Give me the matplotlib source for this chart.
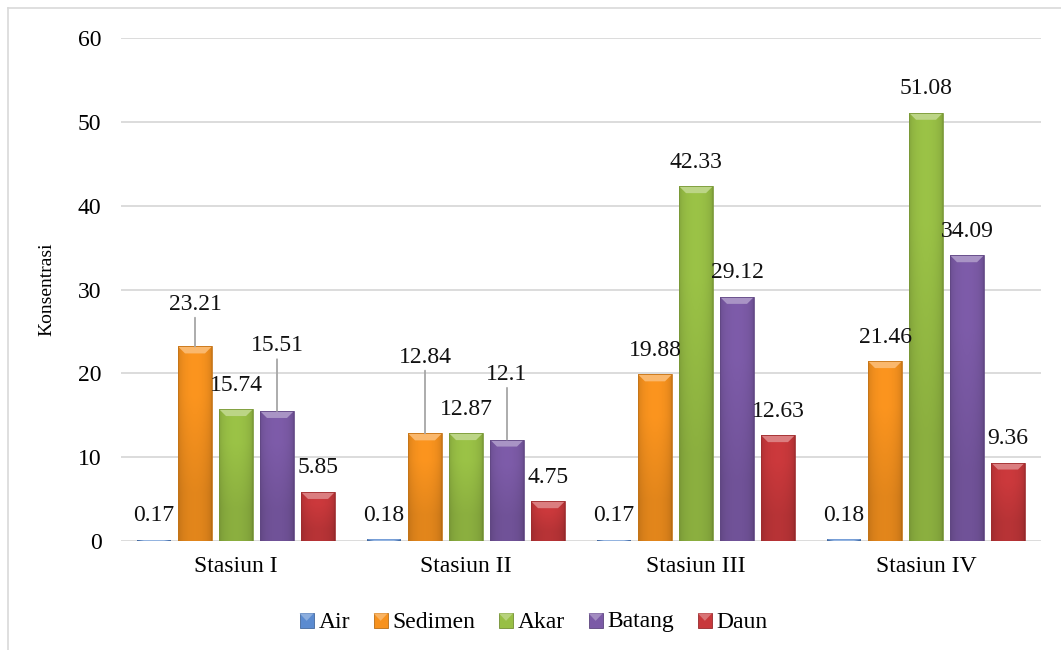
import numpy as np
import matplotlib.pyplot as plt
from matplotlib.patches import Rectangle, Polygon
from matplotlib.lines import Line2D
from matplotlib.colors import to_rgb
from matplotlib.legend_handler import HandlerBase

stations = ["Stasiun I", "Stasiun II", "Stasiun III", "Stasiun IV"]
parts = ["Air", "Sedimen", "Akar", "Batang", "Daun"]

air = [0.17, 0.18, 0.17, 0.18]
sedimen = [23.21, 12.84, 19.88, 21.46]
akar = [15.74, 12.87, 42.33, 51.08]
batang = [15.51, 12.1, 29.12, 34.09]
daun = [5.85, 4.75, 12.63, 9.36]

series = [air, sedimen, akar, batang, daun]
colors = ["#5B8BD0", "#F7921E", "#98BF45", "#7B5AA6", "#C8383B"]

# labels that sit higher with a leader line: (station, part) -> lift in px
lifted = {(0, 1): 42, (0, 3): 65, (1, 1): 76, (1, 3): 65}

plt.rcParams['font.family'] = ['Liberation Serif', 'DejaVu Serif']
FS = 17

W, H = 1061, 650
fig = plt.figure(figsize=(W / 100, H / 100), dpi=100)
ax = fig.add_axes([121 / W, 1 - 541 / H, (1041 - 121) / W, (541 - 38) / H])

ymax = 60
px_per_unit = (541 - 38) / ymax
px_per_cat = (1041 - 121) / 4

pitch = 41 / px_per_cat
width = 34 / px_per_cat
bevel_y = 7 / px_per_unit
bevel_x = 7 / px_per_cat


def mix(c, f):
    c = np.array(to_rgb(c))
    if f >= 1:
        return np.clip(c + (1 - c) * (f - 1), 0, 1)
    return c * f


def draw_bar(x0, h, color):
    # very short bars get no dark outline, only the light bevel
    edge = mix(color, 0.8) if h * px_per_unit > 4 else 'none'
    rect = Rectangle((x0, 0), width, h, facecolor='none',
                     edgecolor=edge, lw=0.6, zorder=3)
    ax.add_patch(rect)
    t = np.linspace(0, 1, 48)
    prof = 0.8 + 0.22 * np.sin(np.pi * t) ** 0.35
    base = np.array(to_rgb(color))
    top_row = np.clip(base[None, :] * prof[:, None], 0, 1)
    img = np.stack([top_row * 0.9, top_row])
    im = ax.imshow(img, extent=[x0, x0 + width, 0, h], origin='lower',
                   aspect='auto', interpolation='bilinear', zorder=2)
    im.set_clip_path(rect)
    dy = min(bevel_y, h)
    bev = Polygon([(x0, h), (x0 + width, h),
                   (x0 + width - bevel_x, h - dy), (x0 + bevel_x, h - dy)],
                  closed=True, facecolor=mix(color, 1.35), edgecolor='none', zorder=2.5)
    ax.add_patch(bev)
    bev.set_clip_path(rect)


for i, vals in enumerate(series):
    for j, v in enumerate(vals):
        xc = j + (i - 2) * pitch
        draw_bar(xc - width / 2, v, colors[i])
        lift = lifted.get((j, i), 24)
        arrow = None
        if (j, i) in lifted:
            arrow = dict(arrowstyle='-', color='#A6A6A6', lw=1.3, shrinkA=0, shrinkB=0)
        ax.annotate(f"{v:g}", xy=(xc, v), xytext=(0, lift * 0.72),
                    textcoords='offset points', ha='center', va='center',
                    fontsize=FS, color='#111111', arrowprops=arrow, zorder=4)

ax.set_xlim(-0.5, 3.5)
ax.set_ylim(0, ymax)
ax.set_yticks(range(0, 61, 10))
ax.set_xticks(range(len(stations)))
ax.set_xticklabels(stations)
ax.tick_params(axis='y', length=0, pad=14, labelsize=FS)
ax.tick_params(axis='x', length=0, pad=11, labelsize=FS)
for s in ax.spines.values():
    s.set_visible(False)
ax.grid(axis='y', color='#D9D9D9', lw=1.3)
ax.set_axisbelow(True)
ax.set_ylabel("Konsentrasi", fontsize=14)
ax.yaxis.set_label_coords(-0.071, 0.5)


class BevelSquare(HandlerBase):
    def create_artists(self, legend, orig, xd, yd, w, h, fontsize, trans):
        c = orig.get_facecolor()
        sq = Rectangle((xd, yd), w, h, facecolor=c, edgecolor=mix(c[:3], 0.75),
                       lw=0.6, transform=trans)
        tri = Polygon([(xd, yd + h), (xd + w, yd + h), (xd + w * 0.5, yd + h * 0.5)],
                      facecolor=mix(c[:3], 1.3), edgecolor='none', transform=trans)
        return [sq, tri]


handles = [Rectangle((0, 0), 1, 1, facecolor=c) for c in colors]
leg = fig.legend(handles, parts, loc='center', bbox_to_anchor=(0.503, 1 - 622 / H),
                 ncol=5, frameon=False, fontsize=FS, handlelength=0.6,
                 handleheight=0.6, handletextpad=0.2, columnspacing=1.0,
                 handler_map={Rectangle: BevelSquare()})

# thin outer frame on the left and top
fig.add_artist(Line2D([8 / W, 8 / W], [0, 1 - 8 / H], color='#D9D9D9', lw=1.2))
fig.add_artist(Line2D([8 / W, 1], [1 - 8 / H, 1 - 8 / H], color='#D9D9D9', lw=1.2))

plt.savefig("out.png", dpi=100)
